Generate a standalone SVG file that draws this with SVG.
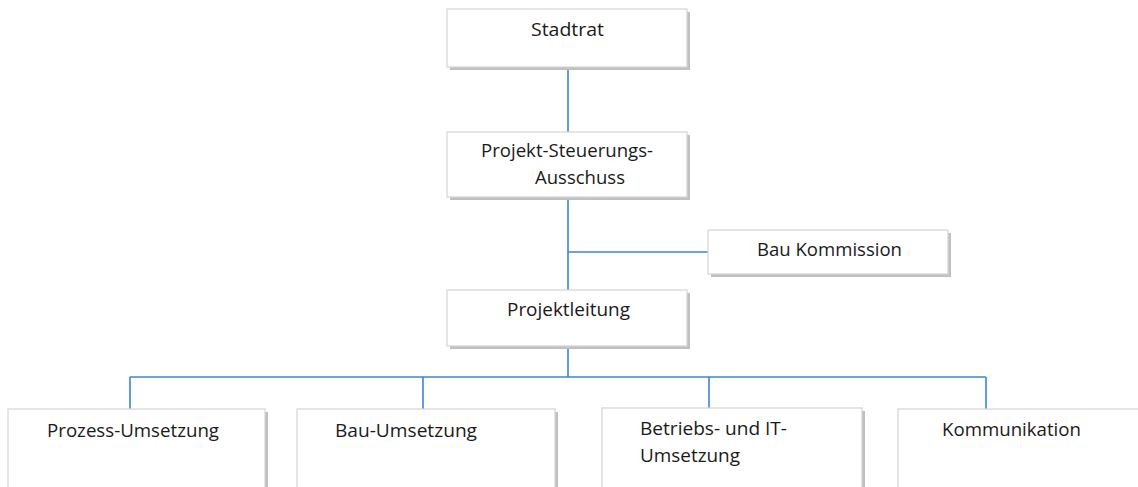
<svg xmlns="http://www.w3.org/2000/svg" width="1138" height="487" viewBox="0 0 1138 487">
<style>
.box{fill:#ffffff;stroke:#d4d4d4;stroke-width:1.2}
.sh{fill:#c0c0c0}
.t{font-family:"Open Sans","Noto Sans",sans-serif;font-size:18px;fill:#1a1a1a}
.c{stroke:#3b86d8;stroke-width:1.6;fill:none}
</style>
<rect width="1138" height="487" fill="#ffffff"/>
<g id="connectors">
<path class="c" d="M568 67V132M568 197V290M568 252H708M568 346V377M130 377H986M130 377V409M423 377V409M709 377V409M986 377V409"/>
</g>
<g id="stadtrat">
<rect class="sh" x="450" y="12" width="240" height="58"/>
<rect class="box" x="447" y="9" width="240" height="58"/>
<text class="t" x="531" y="36" textLength="73" lengthAdjust="spacingAndGlyphs">Stadtrat</text>
</g>
<g id="steuerung">
<rect class="sh" x="450" y="135" width="240" height="65"/>
<rect class="box" x="447" y="132" width="240" height="65"/>
<text class="t" x="481" y="157" textLength="172" lengthAdjust="spacingAndGlyphs">Projekt-Steuerungs-</text>
<text class="t" x="535" y="184" textLength="90" lengthAdjust="spacingAndGlyphs">Ausschuss</text>
</g>
<g id="baukommission">
<rect class="sh" x="711" y="233" width="240" height="44"/>
<rect class="box" x="708" y="230" width="240" height="44"/>
<text class="t" x="757" y="256" textLength="145" lengthAdjust="spacingAndGlyphs">Bau Kommission</text>
</g>
<g id="projektleitung">
<rect class="sh" x="450" y="293" width="240" height="56"/>
<rect class="box" x="447" y="290" width="240" height="56"/>
<text class="t" x="507" y="316" textLength="123" lengthAdjust="spacingAndGlyphs">Projektleitung</text>
</g>
<g id="prozess">
<rect class="sh" x="11" y="412" width="257" height="90"/>
<rect class="box" x="8" y="409" width="257" height="90"/>
<text class="t" x="47" y="437" textLength="172" lengthAdjust="spacingAndGlyphs">Prozess-Umsetzung</text>
</g>
<g id="bau">
<rect class="sh" x="300" y="412" width="258" height="90"/>
<rect class="box" x="297" y="409" width="258" height="90"/>
<text class="t" x="335" y="437" textLength="142" lengthAdjust="spacingAndGlyphs">Bau-Umsetzung</text>
</g>
<g id="betrieb">
<rect class="sh" x="605" y="411" width="260" height="90"/>
<rect class="box" x="602" y="408" width="260" height="90"/>
<text class="t" x="640" y="435" textLength="147" lengthAdjust="spacingAndGlyphs">Betriebs- und IT-</text>
<text class="t" x="640" y="462" textLength="100" lengthAdjust="spacingAndGlyphs">Umsetzung</text>
</g>
<g id="kommunikation">
<rect class="sh" x="901" y="412" width="260" height="90"/>
<rect class="box" x="898" y="409" width="260" height="90"/>
<text class="t" x="942" y="436" textLength="139" lengthAdjust="spacingAndGlyphs">Kommunikation</text>
</g>
</svg>
